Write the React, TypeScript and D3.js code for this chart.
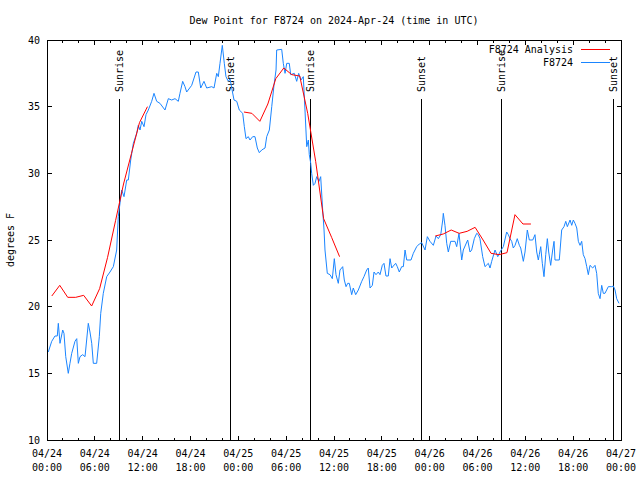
import React from "react";
import * as d3 from "d3";

const title = "Dew Point for F8724 on 2024-Apr-24 (time in UTC)";
const yLabel = "degrees F";
const yTicks = [10, 15, 20, 25, 30, 35, 40];
const xTickHours = [0, 6, 12, 18, 24, 30, 36, 42, 48, 54, 60, 66, 72];
const xTickDates = ["04/24", "04/24", "04/24", "04/24", "04/25", "04/25", "04/25", "04/25", "04/26", "04/26", "04/26", "04/26", "04/27"];
const xTickTimes = ["00:00", "06:00", "12:00", "18:00", "00:00", "06:00", "12:00", "18:00", "00:00", "06:00", "12:00", "18:00", "00:00"];

const sunEventHours = [9.07, 23.03, 33.0, 46.97, 57.0, 71.03];
const sunEventLabels = ["Sunrise", "Sunset", "Sunrise", "Sunset", "Sunrise", "Sunset"];

const analysisName = "F8724 Analysis";
const obsName = "F8724";

// Analysis (hourly), null = gap
const analysisHours = [
  0.6, 1.6, 2.6, 3.6, 4.6, 5.6, 6.6, 7.6, 8.6, 9.6, 10.6, 11.6, 12.6, null,
  24.7, 25.7, 26.7, 27.7, 28.7, 29.7, 30.7, 31.7, 32.7, 33.7, 34.7, 35.7, 36.7, null,
  48.7, 49.7, 50.7, 51.7, 52.7, 53.7, 54.7, 55.7, 56.7, 57.7, 58.7, 59.7, 60.7,
];
const analysisValues = [
  20.8, 21.6, 20.7, 20.7, 20.85, 20.05, 21.35, 23.7, 26.45, 29.2, 31.5, 33.8, 35.0, null,
  34.6, 34.5, 33.9, 35.2, 37.1, 37.9, 37.4, 37.3, 34.5, 30.9, 26.6, 25.2, 23.75, null,
  25.3, 25.45, 25.75, 25.5, 25.65, 25.95, 25.0, 24.0, 23.9, 24.05, 26.9, 26.2, 26.2,
];

// Observations
const obsHours = [
  0.16, 0.59, 1.0, 1.29, 1.42, 1.63, 1.97, 2.13, 2.35, 2.67, 2.88, 3.1, 3.51, 3.73, 3.93, 4.14, 4.48, 4.77,
  5.18, 5.39, 5.61, 5.81, 6.23, 6.56, 6.74, 7.06, 7.49, 7.9, 8.32, 8.74, 8.94,
  9.37, 9.66, 10.0, 10.2, 10.5, 10.83, 11.25, 11.45, 11.67, 11.88, 12.17, 12.42, 12.71, 13.13, 13.42, 13.76,
  14.17, 14.8, 15.22, 15.64, 16.06, 16.47, 16.68, 17.02, 17.31, 17.52, 18.15, 18.69, 18.98, 19.28, 19.69,
  20.03, 20.66, 20.95, 21.29, 21.49, 21.7, 21.99, 22.24, 22.45, 22.74, 22.96, 23.17, 23.46, 23.8, 24.12,
  24.55, 24.75, 24.96, 25.25, 25.46, 25.8, 26.09, 26.38, 26.63, 26.93, 27.35, 27.56, 27.89, 28.19, 28.47,
  28.73, 28.81, 29.44, 29.64, 29.86, 30.07, 30.39, 30.57, 31.02, 31.32, 31.57, 31.86, 32.15, 32.36, 32.58,
  32.78, 32.9, 33.08, 33.2, 33.41, 33.62, 33.83, 34.12, 34.33, 34.58, 34.75, 34.87, 35.16, 35.5, 35.79,
  36.04, 36.25, 36.54, 36.75, 37.09, 37.29, 37.51, 37.72, 37.92, 38.22, 38.42, 38.72, 39.05, 39.48, 39.76,
  40.1, 40.3, 40.52, 40.81, 41.02, 41.27, 41.56, 41.77, 42.06, 42.27, 42.52, 42.81, 43.03, 43.24, 43.44,
  43.74, 43.94, 44.19, 44.49, 44.7, 44.91, 45.12, 45.66, 45.95, 46.37, 46.7, 47.0, 47.42, 47.71, 48.04,
  48.46, 48.8, 49.09, 49.39, 49.64, 49.71, 49.92, 50.14, 50.34, 50.64, 51.18, 51.39, 51.68, 52.02, 52.22,
  52.77, 53.06, 53.27, 53.6, 53.9, 54.1, 54.31, 54.65, 54.94, 55.36, 55.57, 55.78, 56.2, 56.54, 56.82,
  57.24, 57.66, 57.87, 58.08, 58.29, 58.49, 58.71, 58.99, 59.25, 59.42, 59.75, 59.96, 60.25, 60.5, 60.93,
  61.21, 61.43, 61.63, 61.75, 61.93, 62.13, 62.34, 62.56, 62.76, 62.93, 63.18, 63.43, 63.6, 63.72, 64.26,
  64.56, 64.85, 65.07, 65.27, 65.61, 65.82, 66.02, 66.23, 66.45, 66.65, 66.86, 67.07, 67.27, 67.49, 67.7,
  67.9, 68.11, 68.45, 68.74, 68.95, 69.15, 69.37, 69.58, 69.78, 69.99, 70.41, 70.84, 71.04, 71.25, 71.46, 71.75,
];
const obsValues = [
  16.6, 17.4, 17.8, 17.8, 18.75, 17.25, 18.25, 18.0, 16.25, 15.0, 15.75, 16.5, 17.4, 17.6, 15.75, 16.25, 16.4, 16.25,
  18.75, 18.1, 17.25, 15.75, 15.75, 17.75, 19.5, 21.0, 22.25, 22.6, 23.0, 24.25, 26.75,
  28.75, 28.25, 29.5, 29.5, 31.0, 32.25, 33.0, 33.6, 33.25, 33.9, 33.5, 34.4, 34.75, 35.4, 36.0, 35.4,
  35.25, 34.75, 35.6, 35.5, 35.6, 35.4, 36.0, 36.9, 36.5, 36.1, 36.6, 37.6, 37.6, 36.4, 36.9,
  36.4, 36.5, 36.4, 37.5, 37.25, 38.25, 39.6, 38.25, 37.25, 36.9, 37.1, 36.4, 35.5, 35.4, 34.75,
  34.5, 33.5, 32.6, 32.75, 32.5, 32.75, 32.75, 31.9, 31.55, 31.75, 31.9, 32.75, 33.25, 35.0, 36.6,
  37.75, 39.25, 39.3, 38.25, 37.5, 38.25, 38.25, 37.4, 37.5, 36.9, 37.5, 37.0, 37.25, 34.75, 32.0,
  32.5, 31.4, 30.75, 30.0, 29.1, 29.25, 29.75, 29.4, 29.75, 27.25, 25.75, 24.25, 22.5, 22.4, 22.1,
  23.6, 22.4, 21.75, 22.75, 23.0, 22.0, 21.5, 21.75, 21.75, 20.9, 21.4, 20.9, 21.25, 21.9, 22.25,
  22.75, 22.9, 21.4, 21.6, 22.6, 22.4, 22.6, 22.4, 23.1, 23.25, 22.3, 22.3, 23.6, 22.9, 23.05,
  23.25, 23.0, 22.6, 23.0, 23.0, 24.25, 23.5, 23.5, 24.0, 24.5, 24.7, 24.8, 24.25, 25.25, 24.9,
  24.6, 25.3, 25.1, 25.4, 26.5, 27.0, 26.1, 24.75, 24.1, 24.9, 24.9, 24.5, 25.5, 23.5, 24.25,
  25.0, 24.1, 24.25, 25.1, 25.5, 25.4, 25.1, 23.75, 23.0, 23.25, 22.9, 23.4, 24.25, 23.75, 24.1,
  24.5, 25.6, 25.4, 25.1, 24.9, 24.4, 24.6, 25.1, 24.6, 24.4, 23.4, 24.1, 25.75, 25.0, 25.0,
  25.4, 24.1, 23.5, 23.9, 24.5, 23.25, 22.25, 23.9, 25.1, 24.1, 23.1, 24.25, 24.9, 23.5, 23.5,
  25.75, 26.0, 26.4, 26.0, 26.5, 26.1, 26.5, 26.25, 25.9, 24.9, 24.6, 24.9, 23.9, 23.6, 23.0,
  22.4, 23.1, 22.9, 23.1, 22.5, 21.0, 20.6, 21.6, 21.0, 21.0, 21.5, 21.5, 21.55, 21.25, 20.6, 20.25,
];

const W = 640;
const H = 480;
const M = { left: 47, right: 621, top: 40, bottom: 440 };
const FONT = "'DejaVu Sans Mono', 'Liberation Mono', monospace";
const RED = "#ff0000";
const BLUE = "#1a85ff";

export default function App() {
  const x = d3.scaleLinear().domain([0, 72]).range([M.left, M.right]);
  const y = d3.scaleLinear().domain([10, 40]).range([M.bottom, M.top]);

  const analysisPts = analysisHours.map((h, i) => [h, analysisValues[i]] as [number | null, number | null]);
  const obsPts = obsHours.map((h, i) => [h, obsValues[i]] as [number, number]);

  const lineA = d3
    .line<[number | null, number | null]>()
    .defined((d) => d[0] !== null && d[1] !== null)
    .x((d) => x(d[0] as number))
    .y((d) => y(d[1] as number));
  const lineO = d3
    .line<[number, number]>()
    .x((d) => x(d[0]))
    .y((d) => y(d[1]));

  const minorTicks = d3.range(0, 73, 2).filter((h) => h % 6 !== 0);
  const MAJ = 4.5;
  const MIN = 2.5;

  return (
    <svg
      width={W}
      height={H}
      viewBox={`0 0 ${W} ${H}`}
      style={{ position: "absolute", left: 0, top: 0, background: "#fff" }}
      fontFamily={FONT}
      fontSize={10}
    >
      <rect x={0} y={0} width={W} height={H} fill="#fff" />
      <text x={(M.left + M.right) / 2} y={23.5} textAnchor="middle" fill="#000">
        {title}
      </text>

      {/* y ticks */}
      {yTicks.map((v) => (
        <g key={"y" + v}>
          <line x1={M.left} x2={M.left + MAJ} y1={y(v)} y2={y(v)} stroke="#000" shapeRendering="crispEdges" />
          <line x1={M.right} x2={M.right - MAJ} y1={y(v)} y2={y(v)} stroke="#000" shapeRendering="crispEdges" />
          <text x={40} y={y(v)} dy="0.35em" textAnchor="end" fill="#000">
            {v}
          </text>
        </g>
      ))}

      {/* x ticks */}
      {xTickHours.map((h, i) => (
        <g key={"x" + h}>
          <line x1={x(h)} x2={x(h)} y1={M.bottom} y2={M.bottom - MAJ} stroke="#000" shapeRendering="crispEdges" />
          <line x1={x(h)} x2={x(h)} y1={M.top} y2={M.top + MAJ} stroke="#000" shapeRendering="crispEdges" />
          <text x={x(h)} y={457} textAnchor="middle" fill="#000">
            {xTickDates[i]}
          </text>
          <text x={x(h)} y={470.5} textAnchor="middle" fill="#000">
            {xTickTimes[i]}
          </text>
        </g>
      ))}
      {minorTicks.map((h) => (
        <g key={"m" + h}>
          <line x1={x(h)} x2={x(h)} y1={M.bottom} y2={M.bottom - MIN} stroke="#000" shapeRendering="crispEdges" />
          <line x1={x(h)} x2={x(h)} y1={M.top} y2={M.top + MIN} stroke="#000" shapeRendering="crispEdges" />
        </g>
      ))}

      {/* y axis label */}
      <text transform={`translate(13.5, ${(M.top + M.bottom) / 2}) rotate(-90)`} textAnchor="middle" fill="#000">
        {yLabel}
      </text>

      {/* sun events */}
      {sunEventHours.map((h, i) => (
        <g key={"s" + i}>
          <line x1={x(h)} x2={x(h)} y1={99} y2={M.bottom} stroke="#000" shapeRendering="crispEdges" />
          <text transform={`translate(${x(h)}, 92) rotate(-90)`} dy="0.35em" textAnchor="start" fill="#000">
            {sunEventLabels[i]}
          </text>
        </g>
      ))}

      {/* data */}
      <path d={lineO(obsPts) || ""} fill="none" stroke={BLUE} strokeWidth={1} />
      <path d={lineA(analysisPts) || ""} fill="none" stroke={RED} strokeWidth={1} />

      {/* legend */}
      <text x={573} y={49.5} dy="0.35em" textAnchor="end" fill="#000">
        {analysisName}
      </text>
      <line x1={581} x2={610} y1={49.5} y2={49.5} stroke={RED} shapeRendering="crispEdges" />
      <text x={573} y={62.5} dy="0.35em" textAnchor="end" fill="#000">
        {obsName}
      </text>
      <line x1={581} x2={610} y1={62.5} y2={62.5} stroke={BLUE} shapeRendering="crispEdges" />

      {/* border */}
      <rect
        x={M.left}
        y={M.top}
        width={M.right - M.left}
        height={M.bottom - M.top}
        fill="none"
        stroke="#000"
        shapeRendering="crispEdges"
      />
    </svg>
  );
}
